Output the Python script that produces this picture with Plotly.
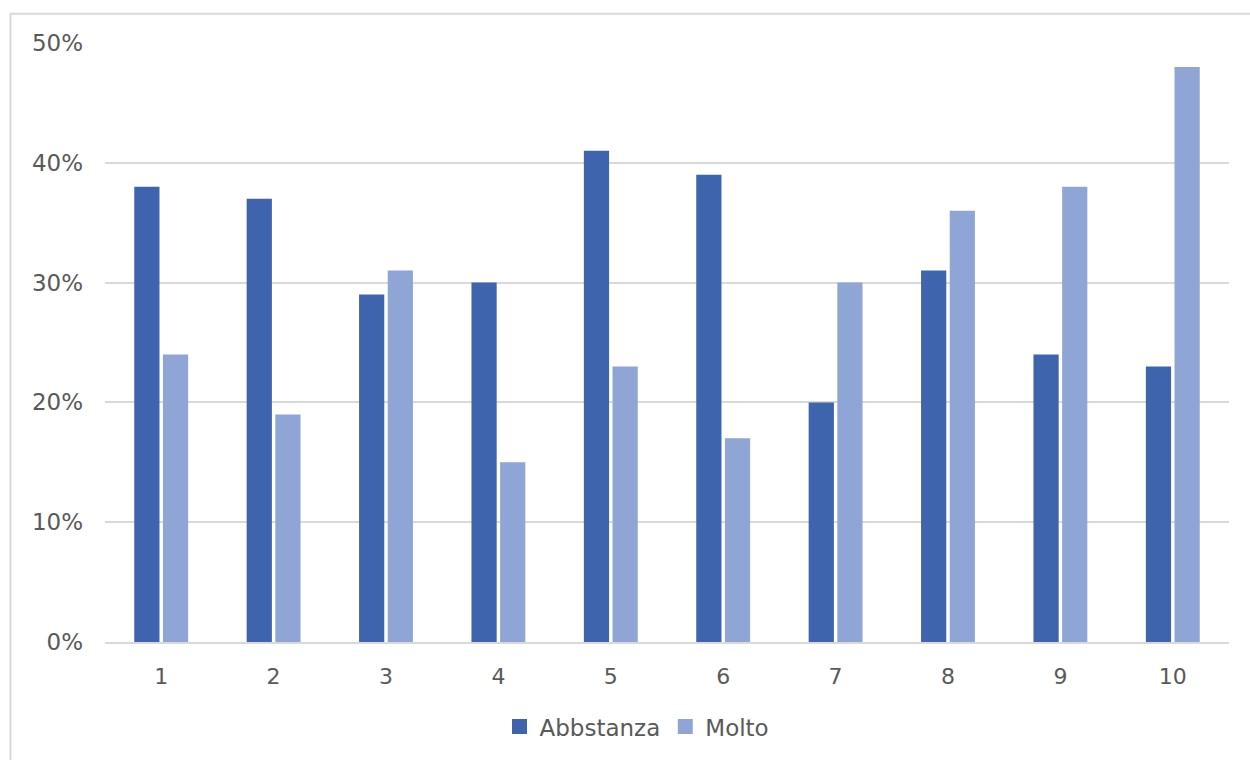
import plotly.graph_objects as go

categories = ["1", "2", "3", "4", "5", "6", "7", "8", "9", "10"]
abbstanza = [0.38, 0.37, 0.29, 0.30, 0.41, 0.39, 0.20, 0.31, 0.24, 0.23]
molto = [0.24, 0.19, 0.31, 0.15, 0.23, 0.17, 0.30, 0.36, 0.38, 0.48]
y_ticks = [0, 0.1, 0.2, 0.3, 0.4, 0.5]
y_labels = ["0%", "10%", "20%", "30%", "40%", "50%"]

FONT = "DejaVu Sans"
GRAY = "#595959"
GRID = "#d9d9d9"
C1, C2 = "#3d64ad", "#8fa5d5"

fig = go.Figure()
fig.add_trace(go.Bar(x=categories, y=abbstanza, name="Abbstanza",
                     marker=dict(color=C1, line=dict(width=0)),
                     showlegend=False))
fig.add_trace(go.Bar(x=categories, y=molto, name="Molto",
                     marker=dict(color=C2, line=dict(width=0)),
                     showlegend=False))
# legend entries with larger square symbols
for name, col in [("Abbstanza", C1), ("Molto", C2)]:
    fig.add_trace(go.Scatter(x=[None], y=[None], mode="markers", name=name,
                             marker=dict(symbol="square", size=15, color=col)))

L, R, T, B = 105, 21, 43, 115
W, H = 1250, 760
pw, ph = W - L - R, H - T - B

def px_x(p):
    return (p - L) / pw

def px_y(p):
    return (H - B - p) / ph

fig.update_layout(
    width=W, height=H,
    margin=dict(l=L, r=R, t=T, b=B, pad=0),
    paper_bgcolor="white", plot_bgcolor="white",
    barmode="group", bargap=0.49, bargroupgap=0.12,
    font=dict(family=FONT, color=GRAY, size=22),
    showlegend=True,
    legend=dict(orientation="h", x=px_x(637), xanchor="center",
                y=px_y(730), yanchor="middle",
                font=dict(size=23, color=GRAY), itemwidth=30,
                tracegroupgap=0, traceorder="normal"),
    xaxis=dict(showgrid=False, showline=True, linecolor=GRID, linewidth=2,
               ticks="", tickfont=dict(size=22, color=GRAY),
               ticklabelstandoff=14, automargin=False),
    yaxis=dict(range=[0, 0.5], tickvals=y_ticks, ticktext=y_labels,
               showgrid=True, gridcolor=GRID, gridwidth=2,
               zeroline=False, showline=False, ticks="",
               tickfont=dict(size=23, color=GRAY), ticklabelstandoff=21,
               automargin=False),
    shapes=[dict(type="rect", xref="paper", yref="paper",
                 x0=px_x(10.5), x1=px_x(1270), y0=px_y(780), y1=px_y(13.5),
                 line=dict(color=GRID, width=2), fillcolor="rgba(0,0,0,0)",
                 layer="below")],
)

fig.write_html("out.html")
